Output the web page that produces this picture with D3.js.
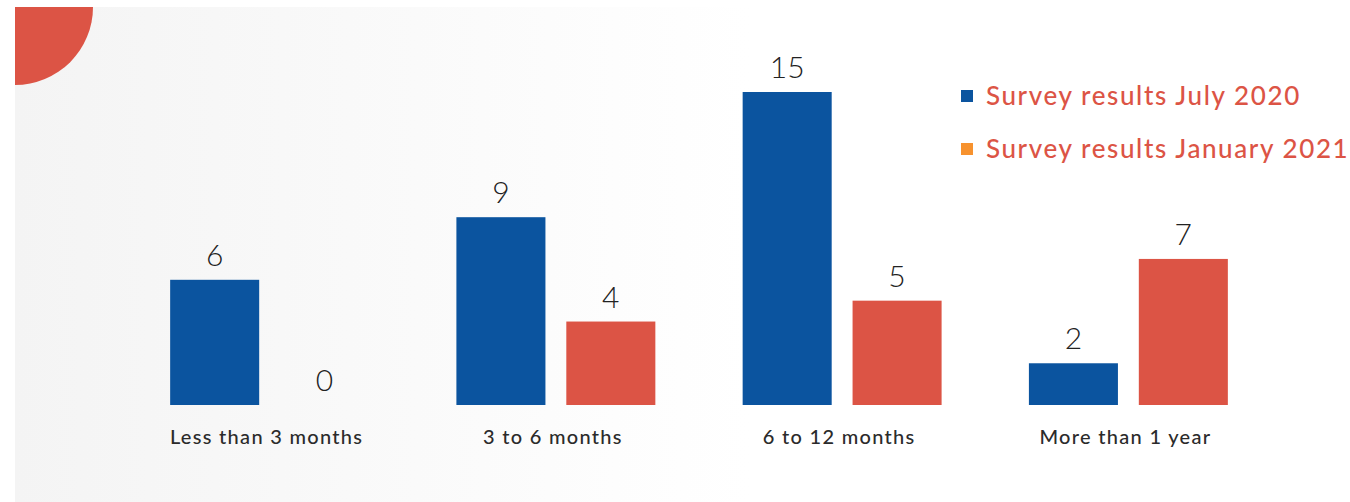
<!DOCTYPE html>
<html>
<head>
<meta charset="utf-8">
<script src="https://cdn.jsdelivr.net/npm/d3@7"></script>
<style>
  body { margin: 0; background: #fff; }
  svg { display: block; }
  .val { font-family: Lato, "Noto Sans", sans-serif; font-weight: 300; font-size: 30px; fill: #222; }
  .cat { font-family: Lato, "Noto Sans", sans-serif; font-weight: 500; font-size: 20px; fill: #2b2b2b; letter-spacing: 1.3px; }
  .leg { font-family: Lato, "Noto Sans", sans-serif; font-weight: 500; font-size: 26px; fill: #dc5445; letter-spacing: 1.6px; }
</style>
</head>
<body>
<svg id="chart"></svg>
<script>
const categories = ["Less than 3 months", "3 to 6 months", "6 to 12 months", "More than 1 year"];
const seriesNames = ["Survey results July 2020", "Survey results January 2021"];
const july2020 = [6, 9, 15, 2];
const jan2021 = [0, 4, 5, 7];
const barColors = ["#0b549f", "#dc5445"];
const legendColors = ["#0b549f", "#f7922e"];

const width = 1350, height = 502;
const svg = d3.select("#chart").attr("width", width).attr("height", height);

// background panel with soft gradient
const defs = svg.append("defs");
const grad = defs.append("linearGradient").attr("id", "bg")
  .attr("x1", 0).attr("x2", 1).attr("y1", 0).attr("y2", 0);
grad.append("stop").attr("offset", "0%").attr("stop-color", "#f4f4f4");
grad.append("stop").attr("offset", "55%").attr("stop-color", "#ffffff");
svg.append("rect").attr("x", 15).attr("y", 7)
  .attr("width", width - 15).attr("height", height - 7)
  .attr("fill", "url(#bg)");

// red quarter circle in the corner
const arc = d3.arc().innerRadius(0).outerRadius(78)
  .startAngle(Math.PI / 2).endAngle(Math.PI);
svg.append("path").attr("d", arc()).attr("transform", "translate(15,7)").attr("fill", "#dc5445");

const data = categories.map((c, i) => ({cat: c, values: [july2020[i], jan2021[i]]}));

const x0 = d3.scaleBand().domain(categories)
  .range([126.5, 1271.5]).paddingInner(0.305).paddingOuter(0.1525);
const x1 = d3.scaleBand().domain([0, 1])
  .range([0, x0.bandwidth()]).paddingInner(0.19);
const y = d3.scaleLinear().domain([0, 15]).range([405, 92]);

const groups = svg.append("g").selectAll("g").data(data).enter().append("g")
  .attr("transform", d => `translate(${x0(d.cat)},0)`);

groups.selectAll("rect").data(d => d.values).enter().append("rect")
  .attr("x", (d, i) => x1(i))
  .attr("y", d => y(d))
  .attr("width", x1.bandwidth())
  .attr("height", d => y(0) - y(d))
  .attr("fill", (d, i) => barColors[i]);

groups.selectAll("text.val").data(d => d.values).enter().append("text")
  .attr("class", "val")
  .attr("x", (d, i) => x1(i) + x1.bandwidth() / 2)
  .attr("y", d => y(d) - 14)
  .attr("text-anchor", "middle")
  .text(d => d);

// category axis labels
const xAxis = d3.axisBottom(x0).tickSize(0).tickPadding(0);
const axG = svg.append("g").attr("transform", "translate(0,405)").call(xAxis);
axG.select(".domain").remove();
axG.selectAll(".tick text").attr("class", "cat").attr("dy", null).attr("y", 39)
  .attr("dx", -3);

// legend
const leg = svg.append("g").attr("transform", "translate(961,90)");
const items = leg.selectAll("g").data(seriesNames).enter().append("g")
  .attr("transform", (d, i) => `translate(0,${i * 53})`);
items.append("rect").attr("width", 12).attr("height", 12)
  .attr("fill", (d, i) => legendColors[i]);
items.append("text").attr("class", "leg").attr("x", 25).attr("y", 15).text(d => d);
</script>
</body>
</html>
